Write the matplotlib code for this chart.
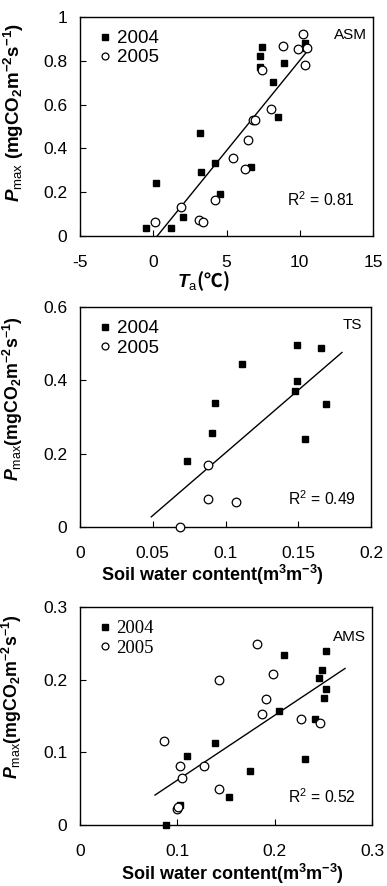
import numpy as np
import matplotlib
matplotlib.use("Agg")
import matplotlib.pyplot as plt
from matplotlib.ticker import FuncFormatter

plt.rcParams['font.family'] = ['Liberation Sans', 'Noto Sans CJK SC', 'DejaVu Sans']
plt.rcParams['mathtext.fontset'] = 'custom'
plt.rcParams['mathtext.it'] = 'Liberation Sans:italic:bold'
plt.rcParams['mathtext.rm'] = 'Liberation Sans:bold'
plt.rcParams['mathtext.bf'] = 'Liberation Sans:bold'
plt.rcParams['mathtext.sf'] = 'Liberation Sans'

# ---- ASM: Pmax vs air temperature ----
asm_t_2004 = [-0.5, 0.16, 1.22, 2.06, 3.18, 3.28, 4.23, 4.59, 6.67, 7.3, 7.41, 7.3,
              8.16, 8.54, 8.9, 10.39, 10.46]
asm_p_2004 = [0.038, 0.24, 0.038, 0.088, 0.469, 0.291, 0.335, 0.19, 0.316, 0.822, 0.861,
              0.772, 0.702, 0.545, 0.79, 0.882, 0.857]
asm_t_2005 = [0.09, 1.88, 3.12, 3.37, 4.23, 5.45, 6.24, 6.44, 6.84, 6.96, 7.39, 8.06,
              8.88, 9.89, 10.21, 10.33, 10.5]
asm_p_2005 = [0.065, 0.132, 0.072, 0.064, 0.164, 0.355, 0.305, 0.44, 0.53, 0.53, 0.758,
              0.582, 0.868, 0.853, 0.922, 0.781, 0.857]
asm_fit = [0.0824, -0.0223]        # slope, intercept
asm_fit_range = [0.27, 10.45]
asm_r2 = "0.81"

# ---- TS: Pmax vs soil water content ----
ts_w_2004 = [0.0736, 0.0906, 0.0926, 0.1115, 0.1476, 0.1494, 0.149, 0.1547, 0.1655, 0.1692]
ts_p_2004 = [0.179, 0.257, 0.339, 0.444, 0.372, 0.399, 0.496, 0.239, 0.488, 0.336]
ts_w_2005 = [0.069, 0.0878, 0.0878, 0.1069]
ts_p_2005 = [0.0, 0.168, 0.075, 0.0676]
ts_fit = [3.43, -0.141]
ts_fit_range = [0.049, 0.18]
ts_r2 = "0.49"

# ---- AMS: Pmax vs soil water content ----
ams_w_2004 = [0.0884, 0.1031, 0.110, 0.1385, 0.153, 0.1743, 0.2041, 0.2097, 0.231, 0.241,
              0.2454, 0.2481, 0.2509, 0.2523, 0.2523]
ams_p_2004 = [0.0, 0.0275, 0.095, 0.1134, 0.0386, 0.074, 0.157, 0.234, 0.091, 0.1456,
              0.2025, 0.2135, 0.1754, 0.187, 0.2397]
ams_w_2005 = [0.086, 0.1, 0.101, 0.1031, 0.1048, 0.1272, 0.1427, 0.143, 0.1815, 0.1873,
              0.1911, 0.1983, 0.2272, 0.2468]
ams_p_2005 = [0.1157, 0.022, 0.025, 0.0813, 0.0647, 0.0813, 0.2002, 0.049, 0.2493, 0.1533,
              0.1736, 0.2076, 0.1456, 0.1401]
ams_fit = [0.8945, -0.0276]
ams_fit_range = [0.077, 0.272]
ams_r2 = "0.52"

fig = plt.figure(figsize=(3.87, 8.86), dpi=100)

H = 886.0
W = 387.0


def make_axes(left, right, top, bottom):
    return fig.add_axes([left / W, 1 - bottom / H, (right - left) / W, (bottom - top) / H])


fmt = FuncFormatter(lambda v, p: "%g" % round(v, 3))

YLABEL = r'$P_{\mathsf{max}}$(mgCO$_2$m$^{-2}$s$^{-1}$)'
SWC = r'Soil water content(m$^3$m$^{-3}$)'


def style(ax, xlim, xticks, ylim, yticks):
    ax.set_xlim(*xlim)
    ax.set_ylim(*ylim)
    ax.set_xticks(xticks)
    ax.set_yticks(yticks)
    ax.xaxis.set_major_formatter(fmt)
    ax.yaxis.set_major_formatter(fmt)
    ax.tick_params(axis='both', direction='in', length=4, width=0.8, labelsize=12.5)
    ax.tick_params(axis='x', pad=14)
    ax.tick_params(axis='y', pad=9)
    for s in ax.spines.values():
        s.set_linewidth(1.0)
        s.set_color('black')


def scatter(ax, x04, y04, x05, y05, fit, rng, legend_font):
    ax.plot(x04, y04, ls='none', marker='s', ms=4.6, mfc='black', mec='black',
            clip_on=False, label='2004', zorder=3)
    ax.plot(x05, y05, ls='none', marker='o', ms=6.2, mfc='white', mec='black', mew=0.9,
            clip_on=False, label='2005', zorder=3)
    xs = np.array(rng)
    ax.plot(xs, fit[0] * xs + fit[1], color='black', lw=1.0, zorder=2)
    ax.legend(loc='upper left', bbox_to_anchor=(0.045, 0.975), frameon=False,
              handlelength=0.5, handletextpad=0.35, labelspacing=0.12,
              borderaxespad=0, markerscale=0.8, prop=legend_font)


# Panel 1: ASM
ax1 = make_axes(80, 373, 17, 236)
style(ax1, (-5, 15), [-5, 0, 5, 10, 15], (0, 1), [0, 0.2, 0.4, 0.6, 0.8, 1.0])
scatter(ax1, asm_t_2004, asm_p_2004, asm_t_2005, asm_p_2005, asm_fit, asm_fit_range,
        {'family': 'Liberation Sans', 'size': 13.5})
ax1.text(0.978, 0.918, 'ASM', transform=ax1.transAxes, ha='right', va='center', fontsize=11)
ax1.text(0.707, 0.164, 'R$^{\\mathsf{2}}$ = ' + asm_r2, transform=ax1.transAxes,
         ha='left', va='center', fontsize=11.3)
ax1.set_ylabel(YLABEL.replace('$(', '$ ('), fontsize=13.5, fontweight='bold')
ax1.yaxis.set_label_coords(-0.185, 0.566)
ax1.set_xlabel(r'$T_{\mathsf{a}}$(℃)', fontsize=13.5, fontweight='bold',
               family='Noto Sans CJK SC')
ax1.xaxis.set_label_coords(0.42, -0.15)

# Panel 2: TS
ax2 = make_axes(80, 371, 307.3, 526.7)
style(ax2, (0, 0.2), [0, 0.05, 0.1, 0.15, 0.2], (0, 0.6), [0, 0.2, 0.4, 0.6])
scatter(ax2, ts_w_2004, ts_p_2004, ts_w_2005, ts_p_2005, ts_fit, ts_fit_range,
        {'family': 'Liberation Sans', 'size': 13.5})
ax2.text(0.97, 0.919, 'TS', transform=ax2.transAxes, ha='right', va='center', fontsize=11)
ax2.text(0.715, 0.129, 'R$^{\\mathsf{2}}$ = ' + ts_r2, transform=ax2.transAxes,
         ha='left', va='center', fontsize=11.3)
ax2.set_ylabel(YLABEL, fontsize=12.8, fontweight='bold')
ax2.yaxis.set_label_coords(-0.19, 0.584)
ax2.set_xlabel(SWC, fontsize=13, fontweight='bold')
ax2.xaxis.set_label_coords(0.455, -0.165)

# Panel 3: AMS
ax3 = make_axes(80, 372.3, 607.3, 825)
style(ax3, (0, 0.3), [0, 0.1, 0.2, 0.3], (0, 0.3), [0, 0.1, 0.2, 0.3])
scatter(ax3, ams_w_2004, ams_p_2004, ams_w_2005, ams_p_2005, ams_fit, ams_fit_range,
        {'family': 'Liberation Serif', 'size': 13.5})
ax3.text(0.978, 0.862, 'AMS', transform=ax3.transAxes, ha='right', va='center', fontsize=11)
ax3.text(0.713, 0.13, 'R$^{\\mathsf{2}}$ = ' + ams_r2, transform=ax3.transAxes,
         ha='left', va='center', fontsize=11.3)
ax3.set_ylabel(YLABEL, fontsize=12.8, fontweight='bold')
ax3.yaxis.set_label_coords(-0.19, 0.59)
ax3.set_xlabel(SWC, fontsize=13, fontweight='bold')
ax3.xaxis.set_label_coords(0.52, -0.168)

fig.savefig('out.png', dpi=100)
